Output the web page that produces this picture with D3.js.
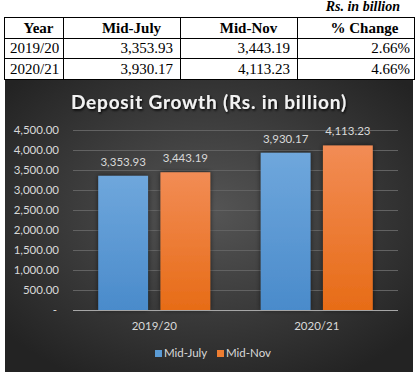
<!DOCTYPE html>
<html>
<head>
<meta charset="utf-8">
<script src="https://cdn.jsdelivr.net/npm/d3@7"></script>
<style>
  body { margin: 0; background: #fff; }
  svg { display: block; }
  .tbl text { font-family: "Liberation Serif", "Times New Roman", serif; fill: #000; }
  .chart text { font-family: Lato, "Open Sans", sans-serif; }
</style>
</head>
<body>
<div id="chart"></div>
<script>
const years = ["2019/20", "2020/21"];
const series = ["Mid-July", "Mid-Nov"];
const midJuly = [3353.93, 3930.17];
const midNov = [3443.19, 4113.23];
const pctChange = ["2.66%", "4.66%"];
const yTicks = [0, 500, 1000, 1500, 2000, 2500, 3000, 3500, 4000, 4500];
const tableHeader = ["Year", "Mid-July", "Mid-Nov", "% Change"];

const width = 420;
const height = 375;

const svg = d3.select("#chart").append("svg")
  .attr("width", width)
  .attr("height", height);

const defs = svg.append("defs");

// ---- table on top ----
const tbl = { left: 4, right: 414, top: 17, rowH: [21, 20, 21] };
const colEdges = [tbl.left, 63, 180, 297, tbl.right];
const headerShift = [5, 10, 10, 9]; // headers sit a little right of centre
const rowEdges = [tbl.top];
tbl.rowH.forEach((h) => rowEdges.push(rowEdges[rowEdges.length - 1] + h));

const gT = svg.append("g").attr("class", "tbl");

gT.append("text")
  .attr("x", 400)
  .attr("y", 11)
  .attr("text-anchor", "end")
  .attr("font-size", 14)
  .attr("font-weight", "bold")
  .attr("font-style", "italic")
  .text("Rs. in billion");

gT.selectAll("line.h")
  .data(rowEdges)
  .join("line")
  .attr("class", "h")
  .attr("x1", tbl.left)
  .attr("x2", tbl.right)
  .attr("y1", (d) => d + 0.5)
  .attr("y2", (d) => d + 0.5)
  .attr("stroke", "#000");

gT.selectAll("line.v")
  .data(colEdges)
  .join("line")
  .attr("class", "v")
  .attr("x1", (d) => d + 0.5)
  .attr("x2", (d) => d + 0.5)
  .attr("y1", rowEdges[0])
  .attr("y2", rowEdges[rowEdges.length - 1] + 1)
  .attr("stroke", "#000");

gT.selectAll("text.hd")
  .data(tableHeader)
  .join("text")
  .attr("class", "hd")
  .attr("x", (d, i) => (colEdges[i] + colEdges[i + 1]) / 2 + headerShift[i])
  .attr("y", rowEdges[1] - 5)
  .attr("text-anchor", "middle")
  .attr("font-size", 15)
  .attr("font-weight", "bold")
  .text((d) => d);

const fmt = d3.format(",.2f");
const rows = years.map((y, i) => [y, fmt(midJuly[i]), fmt(midNov[i]), pctChange[i]]);

rows.forEach((row, r) => {
  gT.selectAll(`text.r${r}`)
    .data(row)
    .join("text")
    .attr("class", `r${r}`)
    .attr("x", (d, i) => (i === 0 ? colEdges[0] + 6 : i === 3 ? colEdges[4] - 4 : colEdges[i + 1] - 7))
    .attr("y", rowEdges[r + 2] - 5)
    .attr("text-anchor", (d, i) => (i === 0 ? "start" : "end"))
    .attr("font-size", 15)
    .text((d) => d);
});

// ---- chart panel ----
const panel = { x: 5, y: 80, w: 408, h: 292 };

const bg = defs.append("radialGradient")
  .attr("id", "bg")
  .attr("cx", "50%").attr("cy", "45%").attr("r", "65%");
bg.append("stop").attr("offset", "0%").attr("stop-color", "#555555");
bg.append("stop").attr("offset", "100%").attr("stop-color", "#232323");

const blue = defs.append("linearGradient").attr("id", "blue")
  .attr("x1", 0).attr("x2", 0).attr("y1", 0).attr("y2", 1);
blue.append("stop").attr("offset", "0%").attr("stop-color", "#6fa7dc");
blue.append("stop").attr("offset", "100%").attr("stop-color", "#4a8bcb");

const orange = defs.append("linearGradient").attr("id", "orange")
  .attr("x1", 0).attr("x2", 0).attr("y1", 0).attr("y2", 1);
orange.append("stop").attr("offset", "0%").attr("stop-color", "#f28c55");
orange.append("stop").attr("offset", "100%").attr("stop-color", "#e76c17");

const shadow = defs.append("filter").attr("id", "shadow")
  .attr("x", "-20%").attr("y", "-20%").attr("width", "140%").attr("height", "140%");
shadow.append("feDropShadow")
  .attr("dx", 0).attr("dy", 0).attr("stdDeviation", 2.5)
  .attr("flood-color", "#000").attr("flood-opacity", 0.6);

const tshadow = defs.append("filter").attr("id", "tshadow");
tshadow.append("feDropShadow")
  .attr("dx", 1).attr("dy", 1.5).attr("stdDeviation", 1.2)
  .attr("flood-color", "#000").attr("flood-opacity", 0.9);

const gC = svg.append("g").attr("class", "chart");

gC.append("rect")
  .attr("x", panel.x)
  .attr("y", panel.y)
  .attr("width", panel.w)
  .attr("height", panel.h)
  .attr("fill", "url(#bg)");

gC.append("text")
  .attr("x", 209)
  .attr("y", 109)
  .attr("text-anchor", "middle")
  .attr("font-size", 19)
  .attr("font-weight", "bold")
  .attr("letter-spacing", 0.8)
  .attr("fill", "#f2f2f2")
  .attr("filter", "url(#tshadow)")
  .text("Deposit Growth (Rs. in billion)");

const margin = { left: 73, right: 398, top: 130, bottom: 310 };

const y = d3.scaleLinear()
  .domain([0, 4500])
  .range([margin.bottom, margin.top]);

const x0 = d3.scaleBand()
  .domain(years)
  .range([margin.left, margin.right])
  .paddingInner(0)
  .paddingOuter(0);

const x1 = d3.scaleBand()
  .domain(series)
  .range([x0.bandwidth() / 2 - 56, x0.bandwidth() / 2 + 56])
  .paddingInner(0.2)
  .paddingOuter(0);

// grid + y labels
const yAxis = gC.append("g")
  .attr("transform", `translate(${margin.left},0)`)
  .call(
    d3.axisLeft(y)
      .tickValues(yTicks)
      .tickSize(-(margin.right - margin.left))
      .tickPadding(14)
      .tickFormat((d) => (d === 0 ? "-" : fmt(d)))
  );
yAxis.select(".domain").remove();
yAxis.selectAll(".tick line")
  .attr("stroke-width", 1)
  .attr("stroke", (d) => (d === 0 ? "#a6a6a6" : "#626262"));
yAxis.selectAll(".tick text")
  .attr("fill", "#d9d9d9")
  .attr("font-size", 11.5)
  .attr("font-family", "Lato, 'Open Sans', sans-serif");
yAxis.selectAll(".tick").filter((d) => d === 0).select("text").attr("dx", -2);

// bars
const bars = years.map((yr, i) => [
  { year: yr, key: series[0], value: midJuly[i] },
  { year: yr, key: series[1], value: midNov[i] },
]).flat();

const fills = { "Mid-July": "url(#blue)", "Mid-Nov": "url(#orange)" };

gC.append("g")
  .selectAll("rect")
  .data(bars)
  .join("rect")
  .attr("x", (d) => x0(d.year) + x1(d.key))
  .attr("y", (d) => y(d.value))
  .attr("width", x1.bandwidth())
  .attr("height", (d) => y(0) - y(d.value))
  .attr("fill", (d) => fills[d.key])
  .attr("filter", "url(#shadow)");

// baseline on top of bars
gC.append("line")
  .attr("x1", margin.left)
  .attr("x2", margin.right)
  .attr("y1", y(0) + 0.5)
  .attr("y2", y(0) + 0.5)
  .attr("stroke", "#a6a6a6");

gC.append("g")
  .selectAll("text")
  .data(bars)
  .join("text")
  .attr("x", (d) => x0(d.year) + x1(d.key) + x1.bandwidth() / 2)
  .attr("y", (d) => y(d.value) - 10)
  .attr("text-anchor", "middle")
  .attr("font-size", 11.5)
  .attr("fill", "#d9d9d9")
  .text((d) => fmt(d.value));

// x labels
gC.append("g")
  .selectAll("text")
  .data(years)
  .join("text")
  .attr("x", (d) => x0(d) + x0.bandwidth() / 2)
  .attr("y", 330)
  .attr("text-anchor", "middle")
  .attr("font-size", 11.5)
  .attr("fill", "#d9d9d9")
  .text((d) => d);

// legend
const legendX = [155, 217];
const legend = gC.append("g")
  .selectAll("g")
  .data(series)
  .join("g")
  .attr("transform", (d, i) => `translate(${legendX[i]},350)`);
legend.append("rect")
  .attr("width", 7)
  .attr("height", 7)
  .attr("fill", (d) => (d === "Mid-July" ? "#5b9bd5" : "#ed7d31"));
legend.append("text")
  .attr("x", 9)
  .attr("y", 7)
  .attr("font-size", 11.5)
  .attr("fill", "#d9d9d9")
  .text((d) => d);
</script>
</body>
</html>
